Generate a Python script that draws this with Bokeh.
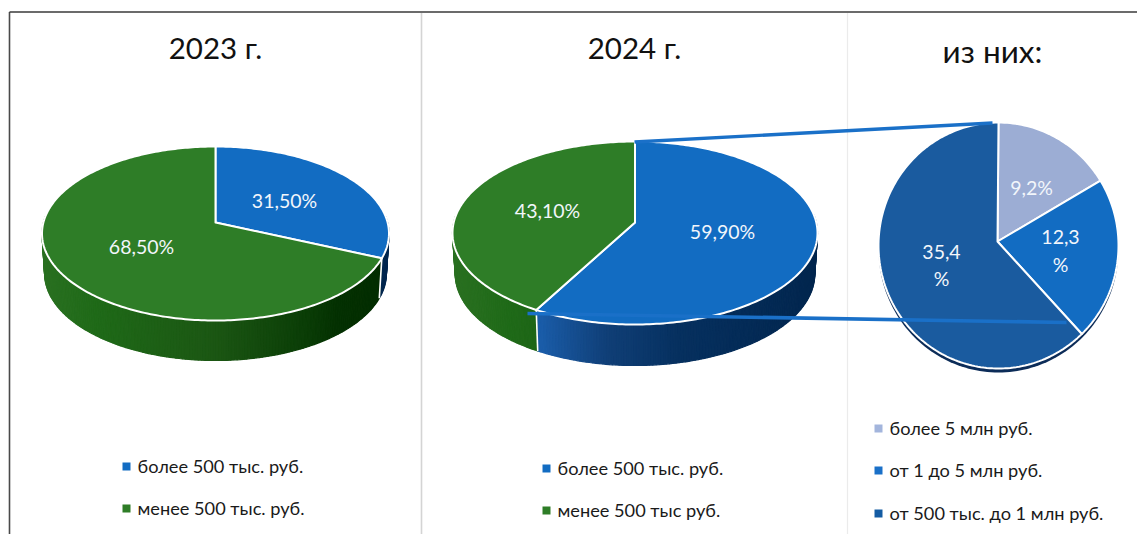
import math
from bokeh.plotting import figure
from bokeh.embed import file_html
from bokeh.resources import INLINE
from bokeh.core.properties import value

# ---- data ----
pie23_names = ["более 500 тыс. руб.", "менее 500 тыс. руб."]
pie23_values = [31.5, 68.5]
pie24_names = ["более 500 тыс. руб.", "менее 500 тыс руб."]
pie24_values = [59.9, 43.1]
sub_names = ["более 5 млн руб.", "от 1 до 5 млн руб.", "от 500 тыс. до 1 млн руб."]
sub_values = [9.2, 12.3, 35.4]
titles = ["2023 г.", "2024 г.", "из них:"]

BLUE, GREEN = "#126cc2", "#2e7d27"
W, H = 1137, 534
FONT = "Lato"

p = figure(width=W, height=H, x_range=(0, W), y_range=(H, 0),
           output_backend="svg", toolbar_location=None, min_border=0,
           outline_line_color=None, background_fill_color="white", border_fill_color="white")
p.axis.visible = False
p.grid.visible = False


def hexrgb(h):
    return [int(h[i:i + 2], 16) for i in (1, 3, 5)]


def ramp(stops, f):
    f = max(0.0, min(1.0, f))
    for (a, ca), (b, cb) in zip(stops, stops[1:]):
        if f <= b:
            t = (f - a) / (b - a)
            ra, rb = hexrgb(ca), hexrgb(cb)
            return "#%02x%02x%02x" % tuple(round(x + (y - x) * t) for x, y in zip(ra, rb))
    return stops[-1][1]


GREEN_WALL = [(0, "#2a7021"), (0.15, "#1f6a18"), (0.5, "#1b5613"), (0.75, "#0b3e07"), (0.85, "#043102"), (1, "#032c00")]
BLUE_WALL = [(0, "#1a5ca8"), (0.24, "#1a5ca8"), (0.42, "#103f77"), (0.62, "#06305f"), (1, "#02264e")]


def project(t, cx, apex, top, bottom, half):
    """Perspective view of a point on a tilted circle; t is clockwise from 12 o'clock."""
    up, down = apex - top, bottom - apex
    k = (up - down) / (up + down)
    a = up * (1 - k)
    b = half * math.sqrt(1 - k * k)
    x, y = math.sin(t), -math.cos(t)
    d = 1 + k * y
    return cx + b * x / d, apex + a * y / d


def tilted_pie(values, colors, walls, cx, apex, top, bottom, half, depth):
    total = sum(values)
    cum = [0.0]
    for v in values:
        cum.append(cum[-1] + v / total * 2 * math.pi)
    pr = lambda t: project(t, cx, apex, top, bottom, half)
    sc = 0.985
    # side wall
    xs, ys, cs = [], [], []
    for i in range(len(values)):
        n = max(8, int((cum[i + 1] - cum[i]) * 60))
        for j in range(n):
            t0 = cum[i] + (cum[i + 1] - cum[i]) * j / n
            t1 = cum[i] + (cum[i + 1] - cum[i]) * (j + 1) / n
            x0, y0 = pr(t0)
            x1, y1 = pr(t1)
            if math.cos((t0 + t1) / 2) > 0.08:
                continue
            f = ((x0 + x1) / 2 - (cx - half)) / (2 * half)
            xs.append([x0, x1, cx + (x1 - cx) * sc, cx + (x0 - cx) * sc])
            ys.append([y0, y1, y1 + depth, y0 + depth])
            cs.append(ramp(walls[i], f))
    p.patches(xs, ys, fill_color=cs, line_color=cs, line_width=1.2)
    # white seam between slices on the wall
    for c in cum[1:-1]:
        x0, y0 = pr(c)
        p.line([x0, cx + (x0 - cx) * sc], [y0, y0 + depth], line_color="white", line_width=1.6)
    # top face
    xs, ys = [], []
    for i in range(len(values)):
        n = max(8, int((cum[i + 1] - cum[i]) * 60))
        pts = [pr(cum[i] + (cum[i + 1] - cum[i]) * j / n) for j in range(n + 1)]
        xs.append([cx] + [q[0] for q in pts])
        ys.append([apex] + [q[1] for q in pts])
    p.patches(xs, ys, fill_color=colors, line_color="white", line_width=2, line_join="round")


# frame
FRAME_TOP, FRAME_LEFT = 11.5, 9
p.line([FRAME_LEFT, FRAME_LEFT], [FRAME_TOP, H], line_color="#4a4a4a", line_width=1.6)
p.line([FRAME_LEFT, W], [FRAME_TOP, FRAME_TOP], line_color="#3a3a3a", line_width=1.4)
p.line([421, 421], [FRAME_TOP + 1, H], line_color="#d4d4d4", line_width=1.6)
p.line([847, 847], [FRAME_TOP + 1, H], line_color="#ebebeb", line_width=1.2)

# pies
tilted_pie(pie23_values, [BLUE, GREEN], [BLUE_WALL, GREEN_WALL], 215, 222, 146, 320, 173.5, 40)
tilted_pie(pie24_values, [BLUE, GREEN], [BLUE_WALL, GREEN_WALL], 634.5, 222, 141, 324, 182.5, 41)

# flat sub-pie
sub_colors = ["#9cadd4", "#126cc2", "#1a5b9f"]
SX, SY, RX, RY, ACX, ACY = 998, 245, 120, 123, 997, 241
outline = [2 * math.pi * j / 200 for j in range(201)]
p.patch([SX + RX * math.sin(t) for t in outline], [SY + 4 - RY * math.cos(t) for t in outline],
        fill_color="#0c2c58", line_color=None)
stot = sum(sub_values)
xs, ys, c = [], [], 0.0
for v in sub_values:
    a0, a1 = c, c + v / stot * 2 * math.pi
    c = a1
    n = int((a1 - a0) * 40) + 2
    ts = [a0 + (a1 - a0) * j / n for j in range(n + 1)]
    xs.append([ACX] + [SX + RX * math.sin(t) for t in ts])
    ys.append([ACY] + [SY - RY * math.cos(t) for t in ts])
p.patches(xs, ys, fill_color=sub_colors, line_color="white", line_width=2, line_join="round")

# connectors
p.line([634, 992], [141.5, 122.5], line_color="#1a70c8", line_width=3.4)
p.line([527, 1066], [313, 322], line_color="#1a70c8", line_width=3.6)


def fmt(v, d):
    return f"{v:.{d}f}".replace(".", ",") + "%"


def txt(x, y, s, size, color="#111111", align="center"):
    p.text([x], [y], text=[s], text_font=value(FONT), text_font_size=size, text_color=color,
           text_align=align, text_baseline="middle")


# titles
for x, y, s, sz in zip([215, 634, 992], [47, 47, 50], titles, ["29.5px", "29.5px", "31.5px"]):
    txt(x, y, s, sz)

# data labels
LBL = "19.5px"
txt(284, 200, fmt(pie23_values[0], 2), LBL, "#f2f6fb")
txt(141, 246, fmt(pie23_values[1], 2), LBL, "#f2f6fb")
txt(722, 231, fmt(pie24_values[0], 2), LBL, "#f2f6fb")
txt(547, 210, fmt(pie24_values[1], 2), LBL, "#f2f6fb")
txt(1031, 187, fmt(sub_values[0], 1), LBL, "#f2f6fb")
a, b = fmt(sub_values[1], 1)[:-1], "%"
txt(1060, 236, a, LBL, "#f2f6fb")
txt(1060, 264, b, LBL, "#f2f6fb")
a = fmt(sub_values[2], 1)[:-1]
txt(941, 251, a, LBL, "#f2f6fb")
txt(941, 278, b, LBL, "#f2f6fb")


# legends
def legend(mx, tx, rows, names, colors):
    for y, n, col in zip(rows, names, colors):
        p.scatter([mx], [y], marker="square", size=8, fill_color=col, line_color=None)
        txt(tx, y - 1, n, "18.2px", "#1a1a1a", "left")


legend(126, 137, [466, 508], pie23_names, [BLUE, GREEN])
legend(546, 557, [468, 510], pie24_names, [BLUE, GREEN])
legend(878, 889, [428, 470, 513], sub_names, ["#a3b5dc", "#1a70c8", "#145ca3"])

open("out.html", "w").write(file_html(p, INLINE))
